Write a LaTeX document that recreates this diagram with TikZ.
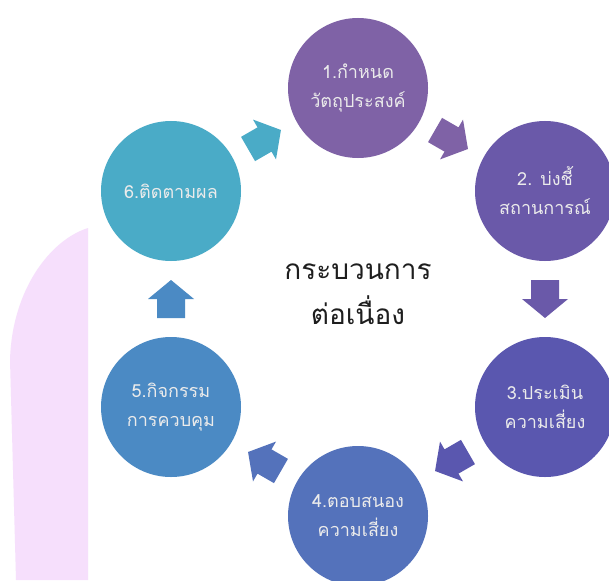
\documentclass[tikz,border=0pt]{standalone}
\usepackage{fontspec}
\newfontfamily\thaifont[Script=Thai]{Loma}
\usetikzlibrary{calc}
\definecolor{colA}{HTML}{7F62A6}
\definecolor{colB}{HTML}{6A59A9}
\definecolor{colC}{HTML}{5A57AF}
\definecolor{colD}{HTML}{5472BB}
\definecolor{colE}{HTML}{4B8AC4}
\definecolor{colF}{HTML}{4AABC7}
\definecolor{pinkbg}{HTML}{F6DFFC}
\definecolor{txtdark}{HTML}{1E1E1E}
\tikzset{
  stage/.style={circle, minimum size=140pt, inner sep=0pt, align=center,
    text=white!92!black, font=\thaifont\fontsize{18}{29}\selectfont},
  pics/blockarrow/.style={code={
    \fill (-19,-14) -- (0,-14) -- (0,-23) -- (19,0) -- (0,23) -- (0,14) -- (-19,14) -- cycle;}}
}
\begin{document}
\begin{tikzpicture}[x=1pt,y=-1pt]
\clip (0,0) rectangle (609,580);
\fill[white] (0,0) rectangle (609,580);
% pink background band
\fill[pinkbg] (88,228) .. controls (50,240) and (12,290) .. (10,360) -- (16,580) -- (88,580) -- cycle;
% stages
\node[stage, fill=colA] (c1) at (358,88) {1.กำหนด\\วัตถุประสงค์};
\node[stage, fill=colB] (c2) at (545,191) {2. บ่งชี้\\สถานการณ์};
\node[stage, fill=colC] (c3) at (545,407) {3.ประเมิน\\ความเสี่ยง};
\node[stage, fill=colD] (c4) at (358,516) {4.ตอบสนอง\\ความเสี่ยง};
\node[stage, fill=colE] (c5) at (171,407) {5.กิจกรรม\\การควบคุม};
\node[stage, fill=colF] (c6) at (171,191) {6.ติดตามผล};
% centre text
\node[align=center, text=txtdark, font=\thaifont\fontsize{28}{45}\selectfont] (mid) at (358,294) {กระบวนการ\\ต่อเนื่อง};
% block arrows
\pic[rotate=30, fill=colF] at ($(c6)!0.5!(c1)$) {blockarrow};
\pic[rotate=-30, fill=colA] at ($(c1)!0.5!(c2)$) {blockarrow};
\pic[rotate=-90, fill=colB] at ($(c2)!0.5!(c3)$) {blockarrow};
\pic[rotate=210, fill=colC] at ($(c3)!0.5!(c4)$) {blockarrow};
\pic[rotate=150, fill=colD] at ($(c4)!0.5!(c5)$) {blockarrow};
\pic[rotate=90, fill=colE] at ($(c5)!0.5!(c6)$) {blockarrow};
\end{tikzpicture}
\end{document}
